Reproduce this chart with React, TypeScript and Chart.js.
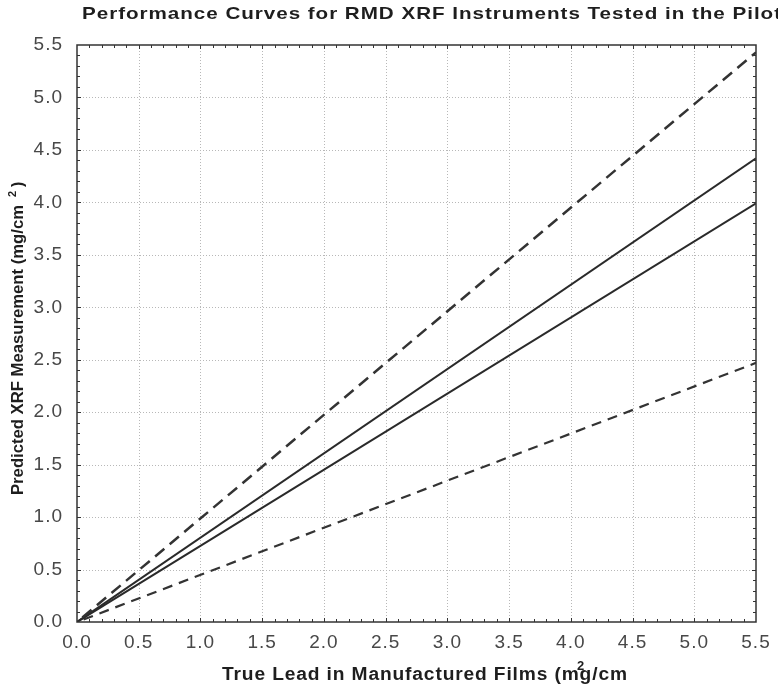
import React, { useEffect, useRef } from 'react';
import { Chart, registerables } from 'chart.js';

Chart.register(...registerables);

// ---- data ----
const xValues = [0, 5.5];
const upperDashed = [0, 5.43];
const upperSolid = [0, 4.42];
const lowerSolid = [0, 3.99];
const lowerDashed = [0, 2.47];
const titleText = 'Performance Curves for RMD XRF Instruments Tested in the Pilot';
const xTitleText = 'True Lead in Manufactured Films (mg/cm';
const xTitlePrefix = 'True Lead in Manufactured Films (m';
const xTitleSup = '2';
const yTitleText = 'Predicted XRF Measurement (mg/cm';
const yTitleSup = '2';
const yTitleEnd = ')';

const FONT = '"Liberation Sans", Arial, sans-serif';

const toPoints = (ys: number[]) => xValues.map((x, i) => ({ x, y: ys[i] }));

// draw text with given letter spacing, stretched horizontally to fill target width
function fitText(ctx: any, text: string, x: number, y: number, target: number, ls: number) {
  ctx.letterSpacing = ls + 'px';
  const w = ctx.measureText(text).width - ls;
  const s = target / w;
  ctx.save();
  ctx.translate(x, y);
  ctx.scale(s, 1);
  ctx.fillText(text, 0, 0);
  ctx.restore();
  return s;
}

const gridPlugin = {
  id: 'dotGrid',
  beforeDraw(chart: any) {
    chart.ctx.letterSpacing = '1px';
  },
  beforeDatasetsDraw(chart: any) {
    const { ctx, chartArea: { left, right, top, bottom }, scales: { x, y } } = chart;
    ctx.save();
    ctx.strokeStyle = '#b8b8b8';
    ctx.lineWidth = 1;
    ctx.setLineDash([1, 2]);
    for (let i = 1; i < 11; i++) {
      const v = i * 0.5;
      const px = Math.round(x.getPixelForValue(v)) + 0.5;
      ctx.beginPath(); ctx.moveTo(px, top); ctx.lineTo(px, bottom); ctx.stroke();
      const py = Math.round(y.getPixelForValue(v)) + 0.5;
      ctx.beginPath(); ctx.moveTo(left, py); ctx.lineTo(right, py); ctx.stroke();
    }
    ctx.restore();
  },
};

const framePlugin = {
  id: 'frame',
  afterDatasetsDraw(chart: any) {
    const { ctx, chartArea: { left, right, top, bottom }, scales: { x, y } } = chart;
    ctx.save();
    ctx.strokeStyle = '#333';
    ctx.lineWidth = 1.5;
    ctx.setLineDash([]);
    ctx.strokeRect(left, top, right - left, bottom - top);
    ctx.lineWidth = 1;
    for (let i = 1; i < 55; i++) {
      const v = i / 10;
      const len = i % 5 === 0 ? 4 : 3;
      const px = Math.round(x.getPixelForValue(v)) + 0.5;
      ctx.beginPath();
      ctx.moveTo(px, bottom); ctx.lineTo(px, bottom - len);
      ctx.moveTo(px, top); ctx.lineTo(px, top + len);
      ctx.stroke();
      const py = Math.round(y.getPixelForValue(v)) + 0.5;
      ctx.beginPath();
      ctx.moveTo(left, py); ctx.lineTo(left + len, py);
      ctx.moveTo(right, py); ctx.lineTo(right - len, py);
      ctx.stroke();
    }
    ctx.restore();
  },
};

const textPlugin = {
  id: 'texts',
  afterDraw(chart: any) {
    const ctx = chart.ctx;
    ctx.save();
    ctx.fillStyle = '#1e1e1e';
    ctx.textAlign = 'left';
    ctx.textBaseline = 'middle';

    // title
    ctx.font = 'bold 17px ' + FONT;
    fitText(ctx, titleText, 82, 14, 699, 0.8);

    // x title
    ctx.font = 'bold 18px ' + FONT;
    const xStart = 222;
    const s = fitText(ctx, xTitleText, xStart, 675, 405, 0.8);
    ctx.letterSpacing = '0.8px';
    const mW = ctx.measureText(xTitlePrefix).width * s;
    ctx.letterSpacing = '0px';
    ctx.font = 'bold 13px ' + FONT;
    ctx.textAlign = 'center';
    ctx.fillText(xTitleSup, xStart + mW + 1, 666);

    // y title (rotated)
    ctx.save();
    ctx.translate(18.5, 336);
    ctx.rotate(-Math.PI / 2);
    ctx.textAlign = 'left';
    ctx.font = 'bold 16px ' + FONT;
    const x0 = -159;
    fitText(ctx, yTitleText, x0, 0, 290, 0);
    ctx.letterSpacing = '0px';
    ctx.font = 'bold 11px ' + FONT;
    ctx.fillText(yTitleSup, x0 + 298, -6);
    ctx.font = 'bold 16px ' + FONT;
    ctx.fillText(yTitleEnd, x0 + 308, 0);
    ctx.restore();

    ctx.restore();
  },
};

export default function App() {
  const ref = useRef<HTMLCanvasElement | null>(null);

  useEffect(() => {
    if (!ref.current) return;
    const tickFont = { family: FONT, size: 19 };
    const chart = new Chart(ref.current, {
      type: 'scatter',
      data: {
        datasets: [
          { label: 'Upper bound', data: toPoints(upperDashed), showLine: true, borderColor: '#333', borderWidth: 2.5, borderDash: [12, 7], borderDashOffset: 12, pointRadius: 0 },
          { label: 'Upper fit', data: toPoints(upperSolid), showLine: true, borderColor: '#2a2a2a', borderWidth: 2, pointRadius: 0 },
          { label: 'Lower fit', data: toPoints(lowerSolid), showLine: true, borderColor: '#2a2a2a', borderWidth: 2, pointRadius: 0 },
          { label: 'Lower bound', data: toPoints(lowerDashed), showLine: true, borderColor: '#333', borderWidth: 2.2, borderDash: [10, 7], borderDashOffset: 10, pointRadius: 0 },
        ],
      },
      options: {
        responsive: false,
        animation: false,
        layout: { padding: { top: 45, right: 22, left: 0, bottom: 0 } },
        plugins: { legend: { display: false }, title: { display: false }, tooltip: { enabled: false } },
        scales: {
          x: {
            type: 'linear', min: 0, max: 5.5,
            grid: { display: false },
            border: { display: false },
            ticks: { stepSize: 0.5, font: tickFont, color: '#484848', padding: 1, maxRotation: 0, callback: (v: any) => Number(v).toFixed(1) },
            afterFit: (sc: any) => { sc.height = 66; },
          },
          y: {
            type: 'linear', min: 0, max: 5.5,
            grid: { display: false },
            border: { display: false },
            ticks: { stepSize: 0.5, font: tickFont, color: '#484848', padding: 6, callback: (v: any) => Number(v).toFixed(1) },
            afterFit: (sc: any) => { sc.width = 77; },
          },
        },
      } as any,
      plugins: [gridPlugin, framePlugin, textPlugin],
    });
    return () => chart.destroy();
  }, []);

  return (
    <div style={{ position: 'fixed', left: 0, top: 0, width: 778, height: 688, background: '#fff' }}>
      <canvas ref={ref} width={778} height={688} />
    </div>
  );
}
